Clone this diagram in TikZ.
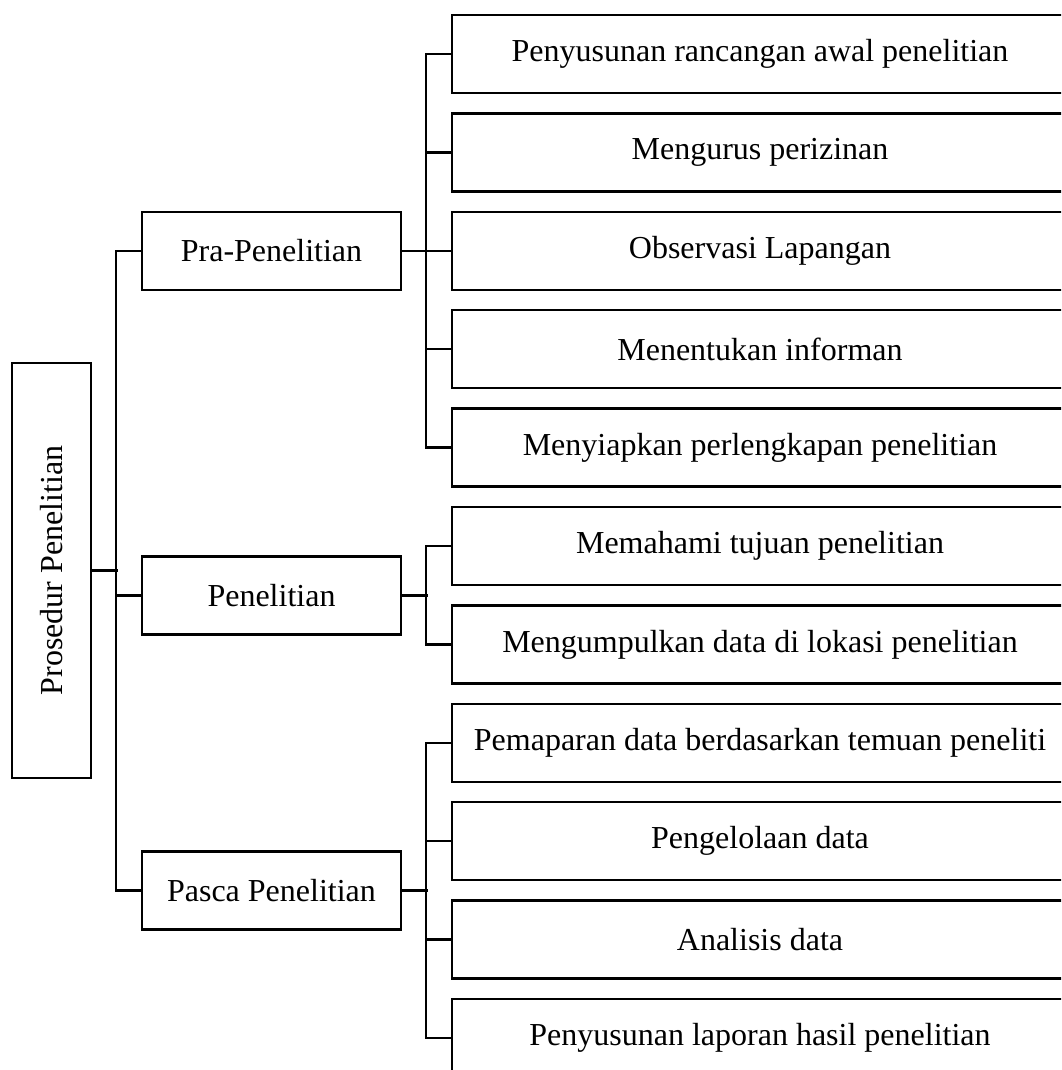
\documentclass[tikz,border=0pt]{standalone}
\usepackage{fontspec}
\setmainfont{Liberation Serif}
\begin{document}
\begin{tikzpicture}[x=1pt,y=-1pt,
  box/.style={draw, line width=2.4pt, inner sep=0pt, font=\fontsize{32}{38}\selectfont, anchor=center},
  mid/.style={box, minimum width=259pt, minimum height=78pt},
  leaf/.style={box, minimum width=616pt, minimum height=78pt},
  conn/.style={line width=2.3pt},
  thick conn/.style={line width=2.9pt}]
\useasboundingbox (0,0) rectangle (1061,1070);
\clip (0,0) rectangle (1061,1070);
% root
\node[box, minimum width=79pt, minimum height=415pt] (root) at (51.5,570.5) {\rotatebox{90}{Prosedur Penelitian}};
% middle level
\node[mid] (pra) at (271.5,251) {Pra-Penelitian};
\node[mid] (pen) at (271.5,595.5) {Penelitian};
\node[mid] (pas) at (271.5,890.5) {Pasca Penelitian};
% leaves
\node[leaf] (a1) at (760,54) {Penyusunan rancangan awal penelitian};
\node[leaf] (a2) at (760,152.4) {Mengurus perizinan};
\node[leaf] (a3) at (760,250.8) {Observasi Lapangan};
\node[leaf] (a4) at (760,349.2) {Menentukan informan};
\node[leaf] (a5) at (760,447.6) {Menyiapkan perlengkapan penelitian};
\node[leaf] (b1) at (760,546) {Memahami tujuan penelitian};
\node[leaf] (b2) at (760,644.4) {Mengumpulkan data di lokasi penelitian};
\node[leaf] (c1) at (760,742.8) {Pemaparan data berdasarkan temuan peneliti};
\node[leaf] (c2) at (760,841.2) {Pengelolaan data};
\node[leaf] (c3) at (760,939.6) {Analisis data};
\node[leaf] (c4) at (760,1038) {Penyusunan laporan hasil penelitian};
% root connectors
\draw[thick conn] (root.east) -- ++(26,0);
\draw[conn] (pra.west) -- ++(-25,0) |- (pas.west);
\draw[conn] (pen.west) -- ++(-25,0);
% pra connectors
\draw[thick conn] (pra.east) -- ++(26,0);
\draw[conn] (a1.west) -- ++(-25,0) |- (a5.west);
\foreach \n in {a2,a3,a4} \draw[conn] (\n.west) -- ++(-25,0);
% penelitian connectors
\draw[thick conn] (pen.east) -- ++(26,0);
\draw[conn] (b1.west) -- ++(-25,0) |- (b2.west);
% pasca connectors
\draw[thick conn] (pas.east) -- ++(26,0);
\draw[conn] (c1.west) -- ++(-25,0) |- (c4.west);
\foreach \n in {c2,c3} \draw[conn] (\n.west) -- ++(-25,0);
\end{tikzpicture}
\end{document}
